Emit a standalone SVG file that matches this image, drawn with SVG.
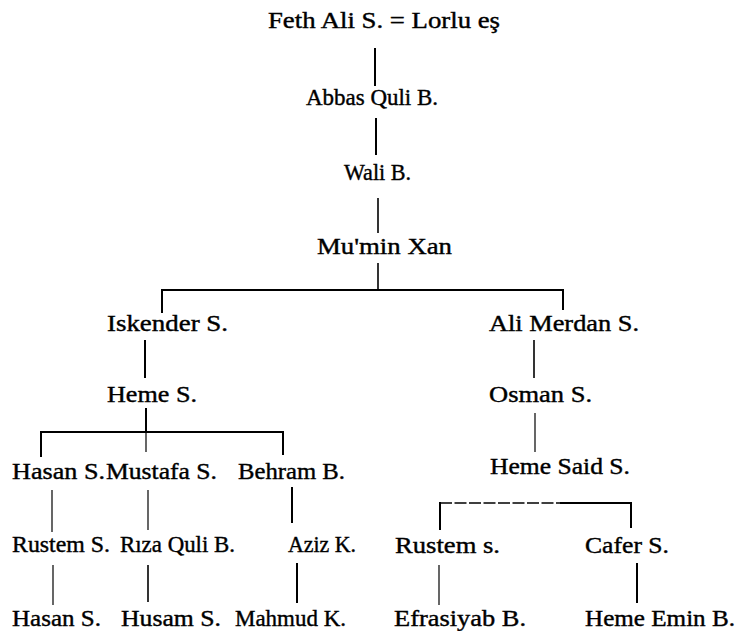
<svg xmlns="http://www.w3.org/2000/svg" width="747" height="631" viewBox="0 0 747 631">
<style>
text{font-family:'Liberation Serif',serif;font-size:23px;fill:#000;stroke:#000;stroke-width:0.4;}
.c line{stroke:#000;stroke-width:2;stroke-linecap:butt;}
.c line.t{stroke-width:1.2;}
.c line.m{stroke-width:1.6;}
.c line.d{stroke-width:1.6;stroke-dasharray:12 2.5;}
</style>
<rect width="747" height="631" fill="#fff"/>
<g class="c" id="connectors">
<line x1="375" y1="48" x2="375" y2="86"/>
<line x1="376" y1="118" x2="376" y2="155"/>
<line class="m" x1="378" y1="198" x2="378" y2="233"/>
<line class="m" x1="378" y1="263" x2="378" y2="290"/>
<line x1="161" y1="290" x2="564" y2="290"/>
<line x1="162" y1="289" x2="162" y2="313"/>
<line x1="563" y1="289" x2="563" y2="310"/>
<line x1="145" y1="340" x2="145" y2="378"/>
<line class="m" x1="534" y1="340" x2="534" y2="378"/>
<line x1="146" y1="408" x2="146" y2="432"/>
<line class="t" x1="146" y1="432" x2="146" y2="452"/>
<line x1="40" y1="432" x2="284" y2="432"/>
<line x1="41" y1="431" x2="41" y2="457"/>
<line x1="283" y1="431" x2="283" y2="455"/>
<line class="t" x1="535" y1="413" x2="535" y2="452"/>
<line class="d" x1="440" y1="503" x2="560" y2="503"/>
<line x1="560" y1="503" x2="631" y2="503"/>
<line x1="440" y1="502" x2="440" y2="530"/>
<line x1="631" y1="502" x2="631" y2="528"/>
<line class="t" x1="52" y1="490" x2="52" y2="532"/>
<line class="t" x1="148" y1="490" x2="148" y2="530"/>
<line x1="292" y1="487" x2="292" y2="523"/>
<line class="t" x1="53" y1="565" x2="53" y2="605"/>
<line class="m" x1="148" y1="565" x2="148" y2="602"/>
<line x1="297" y1="563" x2="297" y2="603"/>
<line class="t" x1="439" y1="565" x2="439" y2="605"/>
<line x1="637" y1="563" x2="637" y2="603"/>
</g>
<g id="n0"><text x="268" y="28" textLength="232" lengthAdjust="spacingAndGlyphs">Feth Ali S. = Lorlu eş</text></g>
<g id="n1"><text x="306" y="105" textLength="132" lengthAdjust="spacingAndGlyphs">Abbas Quli B.</text></g>
<g id="n2"><text x="344" y="180" textLength="67" lengthAdjust="spacingAndGlyphs">Wali B.</text></g>
<g id="n3"><text x="317" y="254" textLength="135" lengthAdjust="spacingAndGlyphs">Mu'min Xan</text></g>
<g id="n4"><text x="107" y="331" textLength="121" lengthAdjust="spacingAndGlyphs">Iskender S.</text></g>
<g id="n5"><text x="489" y="331" textLength="150" lengthAdjust="spacingAndGlyphs">Ali Merdan S.</text></g>
<g id="n6"><text x="107" y="402" textLength="90" lengthAdjust="spacingAndGlyphs">Heme S.</text></g>
<g id="n7"><text x="489" y="402" textLength="103" lengthAdjust="spacingAndGlyphs">Osman S.</text></g>
<g id="n8"><text x="12" y="479" textLength="93" lengthAdjust="spacingAndGlyphs">Hasan S.</text></g>
<g id="n9"><text x="106" y="479" textLength="111" lengthAdjust="spacingAndGlyphs">Mustafa S.</text></g>
<g id="n10"><text x="238" y="479" textLength="107" lengthAdjust="spacingAndGlyphs">Behram B.</text></g>
<g id="n11"><text x="490" y="474" textLength="140" lengthAdjust="spacingAndGlyphs">Heme Said S.</text></g>
<g id="n12"><text x="12" y="552" textLength="98" lengthAdjust="spacingAndGlyphs">Rustem S.</text></g>
<g id="n13"><text x="120" y="552" textLength="115" lengthAdjust="spacingAndGlyphs">Rıza Quli B.</text></g>
<g id="n14"><text x="288" y="552" textLength="68" lengthAdjust="spacingAndGlyphs">Aziz K.</text></g>
<g id="n15"><text x="395" y="553" textLength="105" lengthAdjust="spacingAndGlyphs">Rustem s.</text></g>
<g id="n16"><text x="585" y="553" textLength="84" lengthAdjust="spacingAndGlyphs">Cafer S.</text></g>
<g id="n17"><text x="12" y="626" textLength="89" lengthAdjust="spacingAndGlyphs">Hasan S.</text></g>
<g id="n18"><text x="121" y="626" textLength="100" lengthAdjust="spacingAndGlyphs">Husam S.</text></g>
<g id="n19"><text x="235" y="626" textLength="111" lengthAdjust="spacingAndGlyphs">Mahmud K.</text></g>
<g id="n20"><text x="394" y="626" textLength="132" lengthAdjust="spacingAndGlyphs">Efrasiyab B.</text></g>
<g id="n21"><text x="585" y="626" textLength="150" lengthAdjust="spacingAndGlyphs">Heme Emin B.</text></g>
</svg>
